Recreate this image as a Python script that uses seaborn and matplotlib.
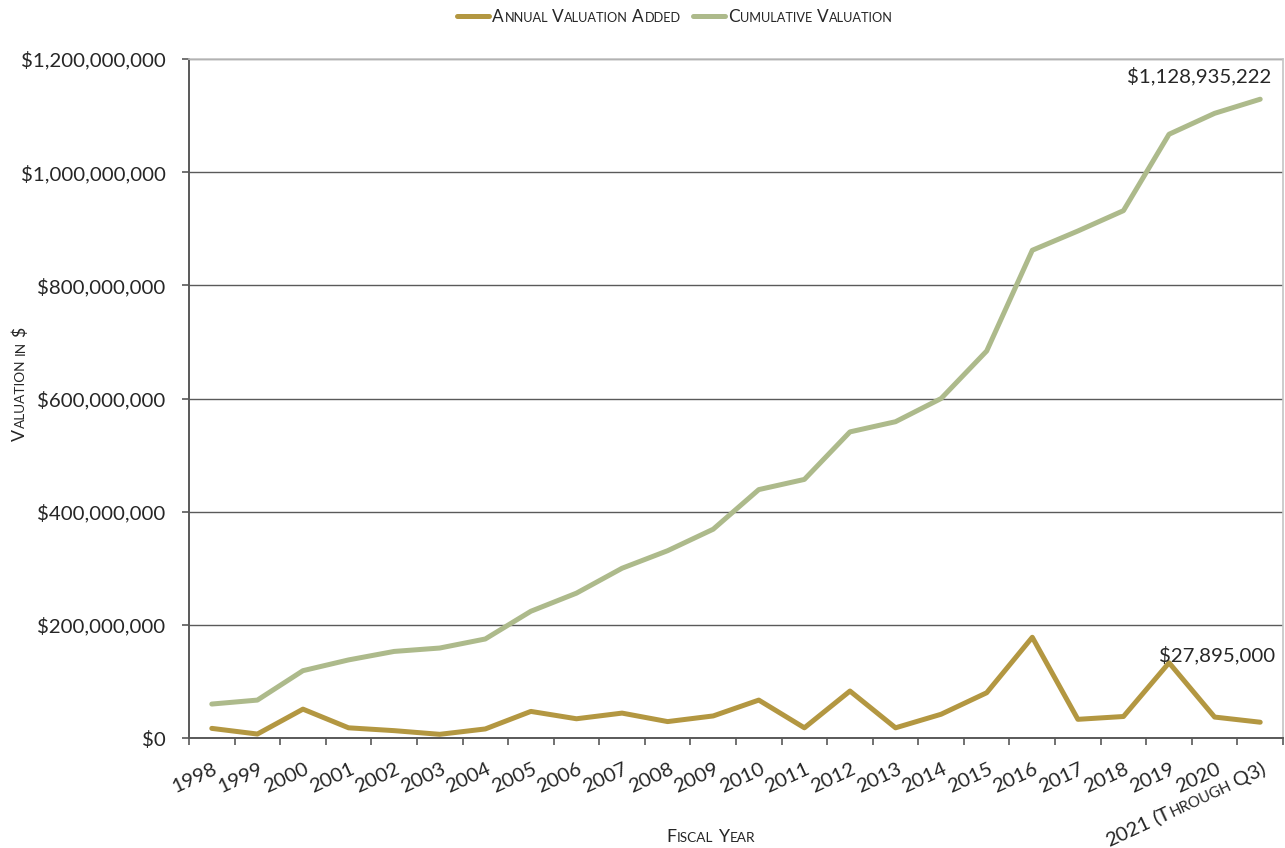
import matplotlib
matplotlib.use('Agg')
import numpy as np
import pandas as pd
import matplotlib.pyplot as plt
import seaborn as sns
from matplotlib.font_manager import FontProperties
from matplotlib.lines import Line2D
from matplotlib.ticker import StrMethodFormatter

# Data
years = ['1998', '1999', '2000', '2001', '2002', '2003', '2004', '2005',
         '2006', '2007', '2008', '2009', '2010', '2011', '2012', '2013',
         '2014', '2015', '2016', '2017', '2018', '2019', '2020',
         '2021 (Through Q3)']
annual = [17e6, 7e6, 51e6, 18e6, 13e6, 6.5e6, 16e6, 47e6,
          34e6, 44e6, 29e6, 39e6, 67e6, 18e6, 83e6, 18e6,
          42e6, 80e6, 178e6, 33e6, 38e6, 133e6, 37e6, 27.895e6]
cumulative = [60e6, 67e6, 119e6, 138e6, 153e6, 159e6, 175e6, 224e6,
              256e6, 300e6, 331e6, 369e6, 439e6, 457e6, 541e6, 559e6,
              600e6, 684e6, 862e6, 896e6, 932e6, 1067e6, 1104e6, 1128.935222e6]
series_names = ['Annual Valuation Added', 'Cumulative Valuation']
colors = ['#b39741', '#adba8b']

FONT = 'Lato'
TEXT = '#262626'
GRID = '#5a5a5a'

sns.set_style('ticks')
plt.rcParams['font.family'] = [FONT, 'DejaVu Sans']
plt.rcParams['text.color'] = TEXT

W, H = 1285, 848
fig = plt.figure(figsize=(W / 100, H / 100), dpi=100)
ax = fig.add_axes([189 / W, 110 / H, 1094 / W, 679 / H])

df = pd.DataFrame({
    'pos': list(range(len(years))) * 2,
    'value': annual + cumulative,
    'series': [series_names[0]] * len(years) + [series_names[1]] * len(years),
})
sns.lineplot(data=df, x='pos', y='value', hue='series', hue_order=series_names,
             palette=colors, lw=3.6, legend=False, ax=ax, zorder=3,
             solid_capstyle='round')

ax.set_xlim(-0.5, len(years) - 0.5)
ax.set_ylim(0, 1.2e9)
ax.set_yticks(np.arange(0, 1.2e9 + 1, 2e8))
ax.yaxis.set_major_formatter(StrMethodFormatter('${x:,.0f}'))
ax.set_xticks(np.arange(-0.5, len(years)))
ax.tick_params(axis='x', labelbottom=False, length=5, width=1.2, color='#595959')
ax.tick_params(axis='y', labelsize=14.7, labelcolor=TEXT, length=5, width=1.2,
               color='#595959', pad=12)
ax.set_xlabel('')
ax.set_ylabel('')
ax.yaxis.grid(True, color=GRID, lw=1.0)
ax.set_axisbelow(True)
for side in ['left', 'bottom']:
    ax.spines[side].set_color('#595959')
    ax.spines[side].set_linewidth(1.4)
for side in ['top', 'right']:
    ax.spines[side].set_color('#c4c4c4')
    ax.spines[side].set_linewidth(1.2)

# value labels
ax.text(23.24, 1.159e9, '$1,128,935,222', ha='right', va='baseline',
        fontsize=14.7, color=TEXT)
ax.text(20.78, 1.36e8, '$27,895,000', ha='left', va='baseline',
        fontsize=14.7, color=TEXT)


def sc_runs(s):
    runs = []
    for ch in s:
        key = 'space' if ch == ' ' else ('small' if ch.islower() else 'big')
        if runs and runs[-1][0] == key and key != 'space':
            runs[-1][1] += ch.upper()
        else:
            runs.append([key, ch.upper()])
    return runs


def smallcaps(x, y, s, big, small, angle=0, ha='left', space=0.24):
    """Draw small-caps text with its baseline start (or end) at pixel x, y."""
    r = fig.canvas.get_renderer()
    px = fig.dpi / 72
    rad = np.deg2rad(angle)
    d = np.array([np.cos(rad), np.sin(rad)])
    pieces = []
    prev_text = False
    for key, txt in sc_runs(s):
        if key == 'space':
            pieces.append((None, 0, space * big * px))
            prev_text = False
            continue
        size = small if key == 'small' else big
        fp = FontProperties(family=FONT, size=size)
        w = r.get_text_width_height_descent(txt, fp, ismath=False)[0]
        gap = 0.05 * big * px if prev_text else 0
        pieces.append((txt, size, w + gap, gap))
        prev_text = True
    total = sum(p[2] for p in pieces)
    start = np.array([x, y], dtype=float)
    if ha == 'right':
        start -= total * d
    pos = 0.0
    for p in pieces:
        if p[0] is None:
            pos += p[2]
            continue
        txt, size, w, gap = p
        pt = start + (pos + gap) * d
        fig.text(pt[0] / W, pt[1] / H, txt, rotation=angle, rotation_mode='anchor',
                 ha='left', va='baseline', fontsize=size, family=FONT, color=TEXT)
        pos += w


# x tick labels (small caps, rotated)
for i, lab in enumerate(years):
    cx = ax.transData.transform((i, 0))[0]
    smallcaps(cx + 7, 110 - 35, lab, 14.7, 10.8, angle=25, ha='right', space=0.2)

# axis titles
smallcaps(666, 5.5, 'Fiscal Year', 12.8, 9.8)
smallcaps(25, 407, 'Valuation in $', 12.8, 9.8, angle=90)

# legend
legend_items = [(457, 492), (693, 728)]
for (lx, tx), name, c in zip(legend_items, series_names, colors):
    fig.add_artist(Line2D([lx / W, (lx + 32) / W], [832 / H, 832 / H],
                          color=c, lw=3.6, solid_capstyle='round',
                          transform=fig.transFigure))
    smallcaps(tx, 826.5, name, 12.4, 9.2, space=0.22)

fig.savefig('out.png', dpi=100)
